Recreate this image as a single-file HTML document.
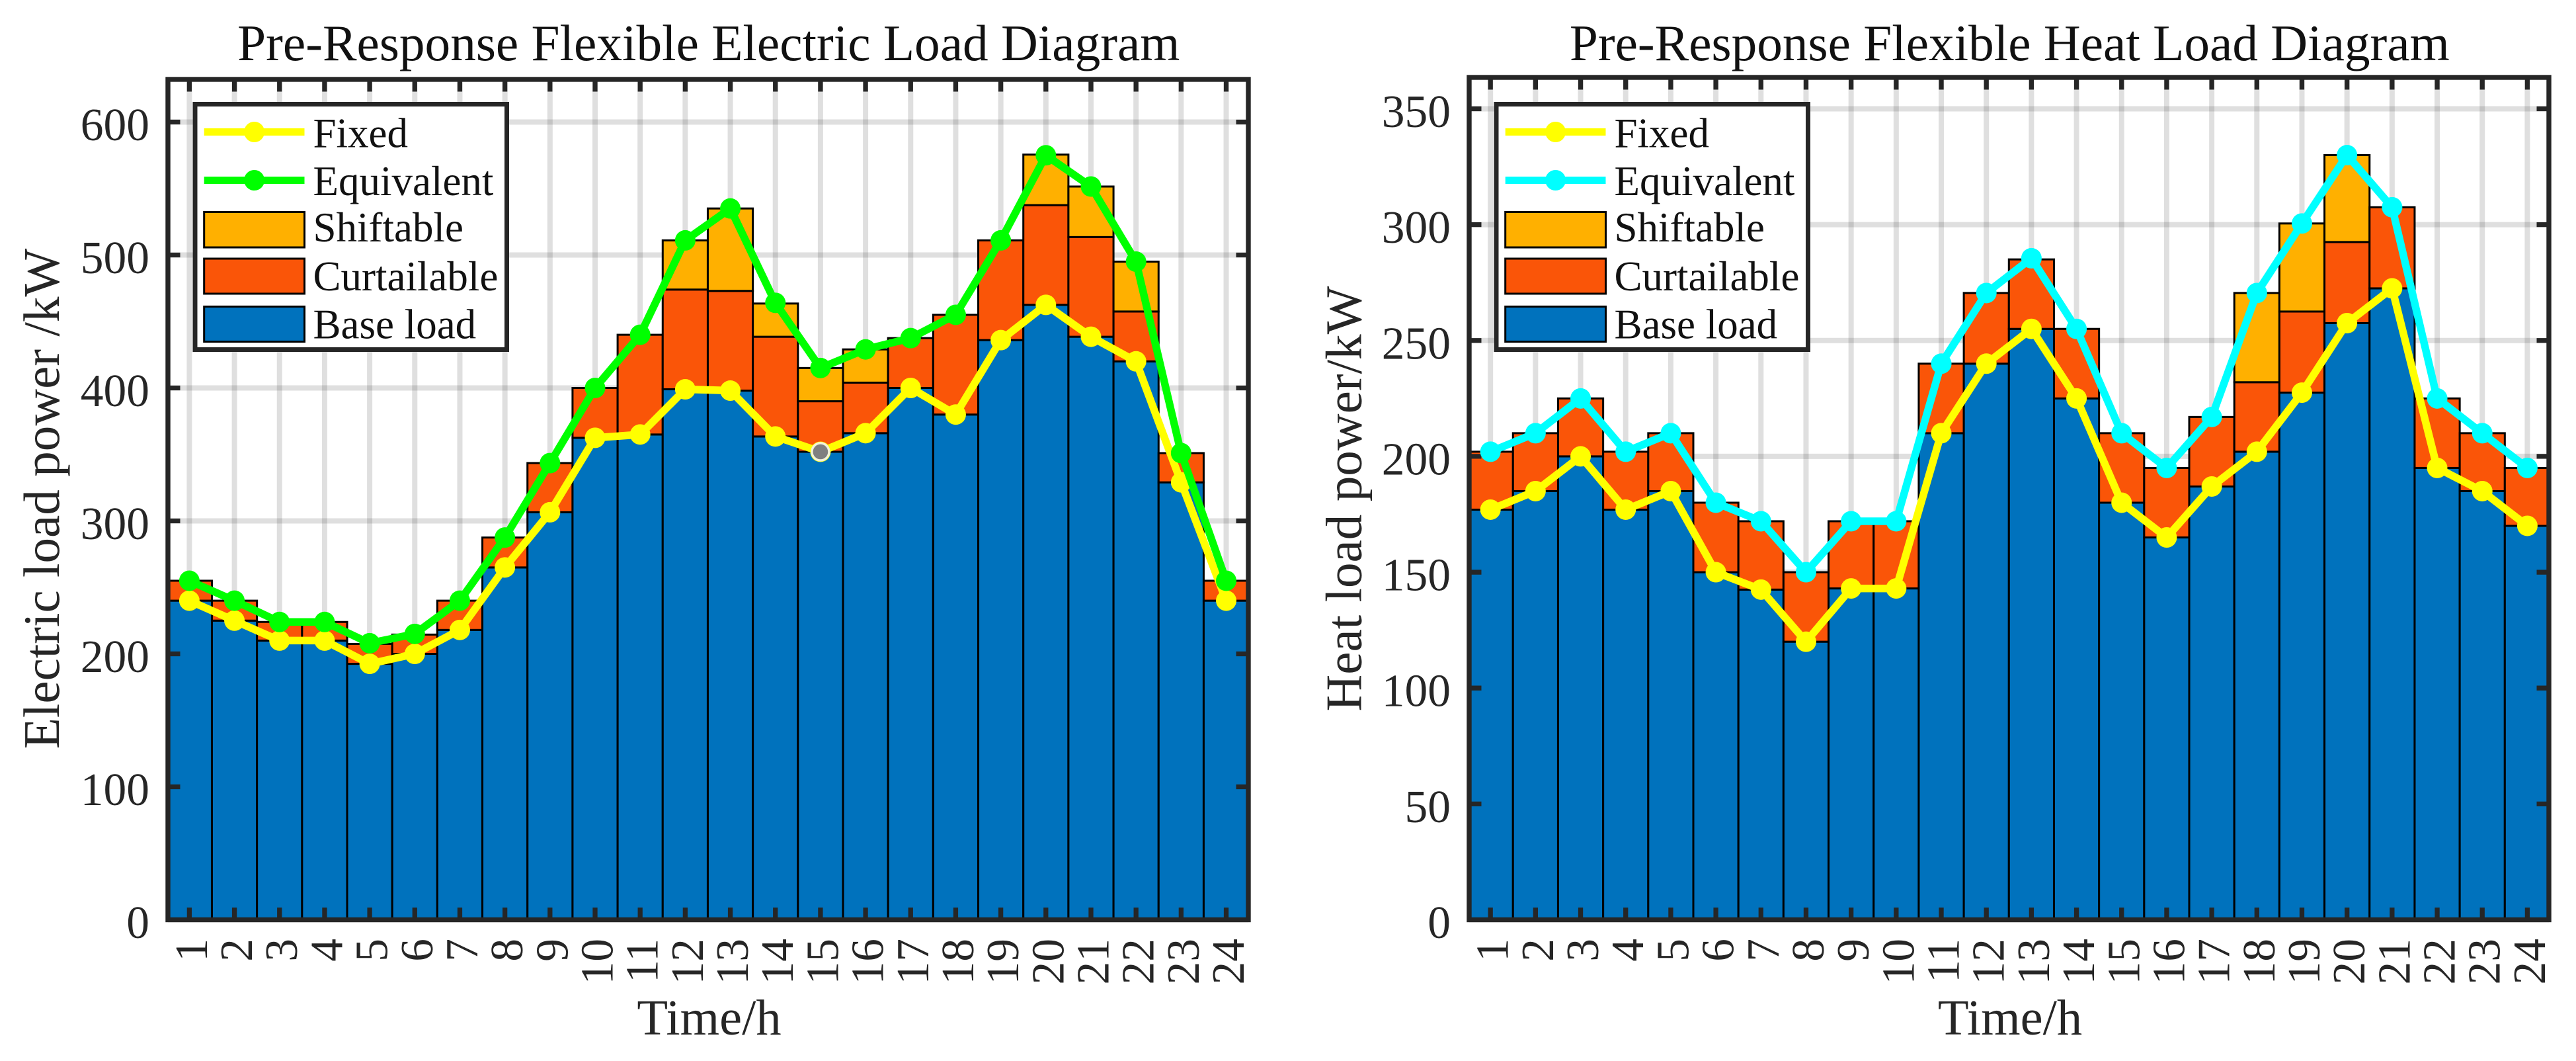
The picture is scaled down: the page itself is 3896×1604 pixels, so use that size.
<!DOCTYPE html>
<html lang="en">
<head>
<meta charset="utf-8">
<title>Pre-Response Flexible Load Diagrams</title>
<style>
  html, body { margin: 0; padding: 0; background: #ffffff; }
  #figure { display: block; width: 3896px; height: 1604px; font-family: "Liberation Serif", "Times New Roman", serif; }
</style>
</head>
<body>
<svg id="figure" xmlns="http://www.w3.org/2000/svg" width="3896" height="1604" viewBox="0 0 3896 1604"></svg>
<script>
// Shared categories
const hours = ['1','2','3','4','5','6','7','8','9','10','11','12','13','14','15','16','17','18','19','20','21','22','23','24'];
const legendLabels = ['Fixed','Equivalent','Shiftable','Curtailable','Base load'];

// Electric load chart values (kW)
const electricYTicks = [0,100,200,300,400,500,600];
const electricBase = [240,225,210,210,192.5,200,218,265,306.5,362.5,365,399,398,363.5,352,366,400,380,436,462.5,438.5,420,329,240];
const electricCurtailable = [15,15,14,14,15,14.5,22,22.5,37,37.5,75,75,75,75,38,38,37.5,75,75,75,75,37.5,22,15];
const electricShiftable = [0,0,0,0,0,0,0,0,0,0,0,37,62,25,25,25,0,0,0,38,38,37.5,0,0];
const electricFixed = [240,225,210,210,192.5,200,218,265,306.5,362.5,365,399,398,363.5,352,366,400,380,436,462.5,438.5,420,329,240];
const electricEquivalent = [255,240,224,224,208,215,240,287.5,343.5,400,440,511,535,464,415,429,437.5,455,511,575,551.5,495,351,255];

// Heat load chart values (kW)
const heatYTicks = [0,50,100,150,200,250,300,350];
const heatBase = [177,185,200,177,185,150,142.5,120,143,143,210,240,255,225,180,165,187,202,227.5,257.5,272.5,195,185,170];
const heatCurtailable = [25,25,25,25,25,30,29.5,30,29,29,30,30.5,30,30,30,30,30,30,35,35,35,30,25,25];
const heatShiftable = [0,0,0,0,0,0,0,0,0,0,0,0,0,0,0,0,0,38.5,38,37.5,0,0,0,0];
const heatFixed = [177,185,200,177,185,150,142.5,120,143,143,210,240,255,225,180,165,187,202,227.5,257.5,272.5,195,185,170];
const heatEquivalent = [202,210,225,202,210,180,172,150,172,172,240,270.5,285.5,255,210,195,217,270.5,300.5,330,307.5,225,210,195];

const SVG_NS = 'http://www.w3.org/2000/svg';
const figure = document.getElementById('figure');
const INK = '#262626';
const BLUE = '#0072BD';
const ORANGE = '#FA5508';
const AMBER = '#FFB000';
const YELLOW = '#FFFF00';

function make(tag, attrs, parent) {
  const el = document.createElementNS(SVG_NS, tag);
  for (const k in attrs) el.setAttribute(k, attrs[k]);
  parent.appendChild(el);
  return el;
}

function drawPanel(p) {
  const xScale = v => p.left + (v - p.xMin) / (p.xMax - p.xMin) * (p.right - p.left);
  const yScale = v => p.bottom - v * p.pxPerUnit;
  const xOf = i => xScale(i + 1);
  const halfBar = (xScale(2) - xScale(1)) / 2;

  const g = make('g', {}, figure);
  
  

  // Grid
  const grid = make('g', { stroke: '#000000', 'stroke-opacity': 0.125, 'stroke-width': 8 }, g);
  
  
  p.hours.forEach((h, i) => {
    const line = make('line', { x1: xOf(i), x2: xOf(i), y1: p.top, y2: p.bottom }, grid);
    
    
  });
  p.yTicks.forEach(t => {
    const line = make('line', { x1: p.left, x2: p.right, y1: yScale(t), y2: yScale(t) }, grid);
    
    
  });

  // Stacked bars
  const bars = make('g', { stroke: '#000000', 'stroke-width': 3 }, g);
  
  
  p.hours.forEach((h, i) => {
    const b = p.base[i], c = p.curtailable[i], s = p.shiftable[i];
    const baseBar = make('rect', { x: xOf(i) - halfBar, width: 2 * halfBar, y: yScale(b), height: yScale(0) - yScale(b), fill: BLUE }, bars);
    
    
    const curtBar = make('rect', { x: xOf(i) - halfBar, width: 2 * halfBar, y: yScale(b + c), height: yScale(b) - yScale(b + c), fill: ORANGE }, bars);
    
    
    if (s > 0) {
      const shiftBar = make('rect', { x: xOf(i) - halfBar, width: 2 * halfBar, y: yScale(b + c + s), height: yScale(b + c) - yScale(b + c + s), fill: AMBER }, bars);
      
      
    }
  });

  // Axes frame and ticks (on top of bars)
  const axes = make('g', { stroke: INK, fill: 'none' }, g);
  
  
  const frame = make('rect', { x: p.left, y: p.top, width: p.right - p.left, height: p.bottom - p.top, 'stroke-width': 7.4 }, axes);
  
  
  p.hours.forEach((h, i) => {
    const bottomTick = make('line', { x1: xOf(i), x2: xOf(i), y1: p.bottom, y2: p.bottom - 18.5, 'stroke-width': 7.3 }, axes);
    
    
    const topTick = make('line', { x1: xOf(i), x2: xOf(i), y1: p.top, y2: p.top + 18.5, 'stroke-width': 7.3 }, axes);
    
    
  });
  p.yTicks.forEach(t => {
    if (t === 0) return;
    const leftTick = make('line', { x1: p.left, x2: p.left + 18.5, y1: yScale(t), y2: yScale(t), 'stroke-width': 7.3 }, axes);
    
    
    const rightTick = make('line', { x1: p.right, x2: p.right - 18.5, y1: yScale(t), y2: yScale(t), 'stroke-width': 7.3 }, axes);
    
    
  });

  // Tick labels
  p.hours.forEach((h, i) => {
    const bx = xOf(i) + 26.5, by = 1419;
    const label = make('text', { x: bx, y: by, transform: 'rotate(-90 ' + bx + ' ' + by + ')', 'text-anchor': 'end', 'font-size': 69.5, fill: INK }, g);
    label.textContent = h;
    
    
  });
  p.yTicks.forEach(t => {
    const label = make('text', { x: p.left - 28, y: yScale(t) + 27.5, 'text-anchor': 'end', 'font-size': 69.5, fill: INK }, g);
    label.textContent = String(t);
    
    
  });

  // Series lines
  const seriesLine = (values, color, name) => {
    const sg = make('g', {}, g);
    
    
    const pts = values.map((v, i) => xOf(i) + ',' + yScale(v)).join(' ');
    const line = make('polyline', { points: pts, fill: 'none', stroke: color, 'stroke-width': 11.5, 'stroke-linejoin': 'round' }, sg);
    
    
    values.forEach((v, i) => {
      const dot = make('circle', { cx: xOf(i), cy: yScale(v), r: 15.5, fill: color }, sg);
      
      
    });
  };
  seriesLine(p.fixed, YELLOW, 'fixed');
  seriesLine(p.equivalent, p.equivalentColor, 'equivalent');

  // Highlighted data point artefact on the fixed series
  if (p.highlightIndex >= 0) {
    const hx = xOf(p.highlightIndex), hy = yScale(p.fixed[p.highlightIndex]);
    const mark = make('circle', { cx: hx, cy: hy, r: 13, fill: '#808080', stroke: '#F2F2DC', 'stroke-width': 3.4 }, g);
    
    
  }

  // Legend
  const lx = p.legendLeft;
  const legend = make('g', {}, g);
  
  
  const box = make('rect', { x: lx, y: 157.5, width: 471.5, height: 371, fill: '#ffffff', stroke: INK, 'stroke-width': 7 }, legend);
  
  
  const sx = lx + 13.7, ex = lx + 165.5, mid = (sx + ex) / 2;
  const keyLine = (cy, color, name) => {
    const l = make('line', { x1: sx, x2: ex, y1: cy, y2: cy, stroke: color, 'stroke-width': 11 }, legend);
    
    
    const c = make('circle', { cx: mid, cy: cy, r: 15.5, fill: color }, legend);
    
    
  };
  const keyBox = (y, h, color, name) => {
    const r = make('rect', { x: sx, y: y, width: ex - sx, height: h, fill: color, stroke: '#000000', 'stroke-width': 3 }, legend);
    
    
  };
  keyLine(199.5, YELLOW, 'fixed');
  keyLine(272.5, p.equivalentColor, 'equivalent');
  keyBox(320.5, 53.5, AMBER, 'shiftable');
  keyBox(391, 53, ORANGE, 'curtailable');
  keyBox(463.5, 53, BLUE, 'base-load');
  const baselines = [222.5, 295, 365, 439, 511.7];
  legendLabels.forEach((txt, i) => {
    const t = make('text', { x: lx + 178.5, y: baselines[i], 'font-size': 63, fill: '#111111' }, legend);
    t.textContent = txt;
    
    
  });

  // Titles
  const cx = (p.left + p.right) / 2;
  const title = make('text', { x: cx + 0.8, y: 90.8, 'text-anchor': 'middle', 'font-size': 77.3, fill: '#111111' }, g);
  title.textContent = p.title;
  
  
  const xLabel = make('text', { x: cx + 1.5, y: 1564, 'text-anchor': 'middle', 'font-size': 76.5, fill: INK }, g);
  xLabel.textContent = 'Time/h';
  
  
  const yLabel = make('text', { x: p.yLabelX, y: 754, transform: 'rotate(-90 ' + p.yLabelX + ' 754)', 'text-anchor': 'middle', 'font-size': 77.2, fill: INK }, g);
  yLabel.textContent = p.yLabel;
  
  
}

drawPanel({
  name: 'electric', title: 'Pre-Response Flexible Electric Load Diagram', yLabel: 'Electric load power /kW',
  left: 254, right: 1888, top: 120, bottom: 1390.5, xMin: 0.525, xMax: 24.491, pxPerUnit: 2.01,
  yLabelX: 89, legendLeft: 295, equivalentColor: '#00FF00', highlightIndex: 14,
  hours: hours, yTicks: electricYTicks, base: electricBase, curtailable: electricCurtailable,
  shiftable: electricShiftable, fixed: electricFixed, equivalent: electricEquivalent
});

drawPanel({
  name: 'heat', title: 'Pre-Response Flexible Heat Load Diagram', yLabel: 'Heat load power/kW',
  left: 2222, right: 3855, top: 117, bottom: 1390.5, xMin: 0.528, xMax: 24.478, pxPerUnit: 3.503,
  yLabelX: 2058.4, legendLeft: 2263, equivalentColor: '#00FFFF', highlightIndex: -1,
  hours: hours, yTicks: heatYTicks, base: heatBase, curtailable: heatCurtailable,
  shiftable: heatShiftable, fixed: heatFixed, equivalent: heatEquivalent
});
</script>
</body>
</html>
